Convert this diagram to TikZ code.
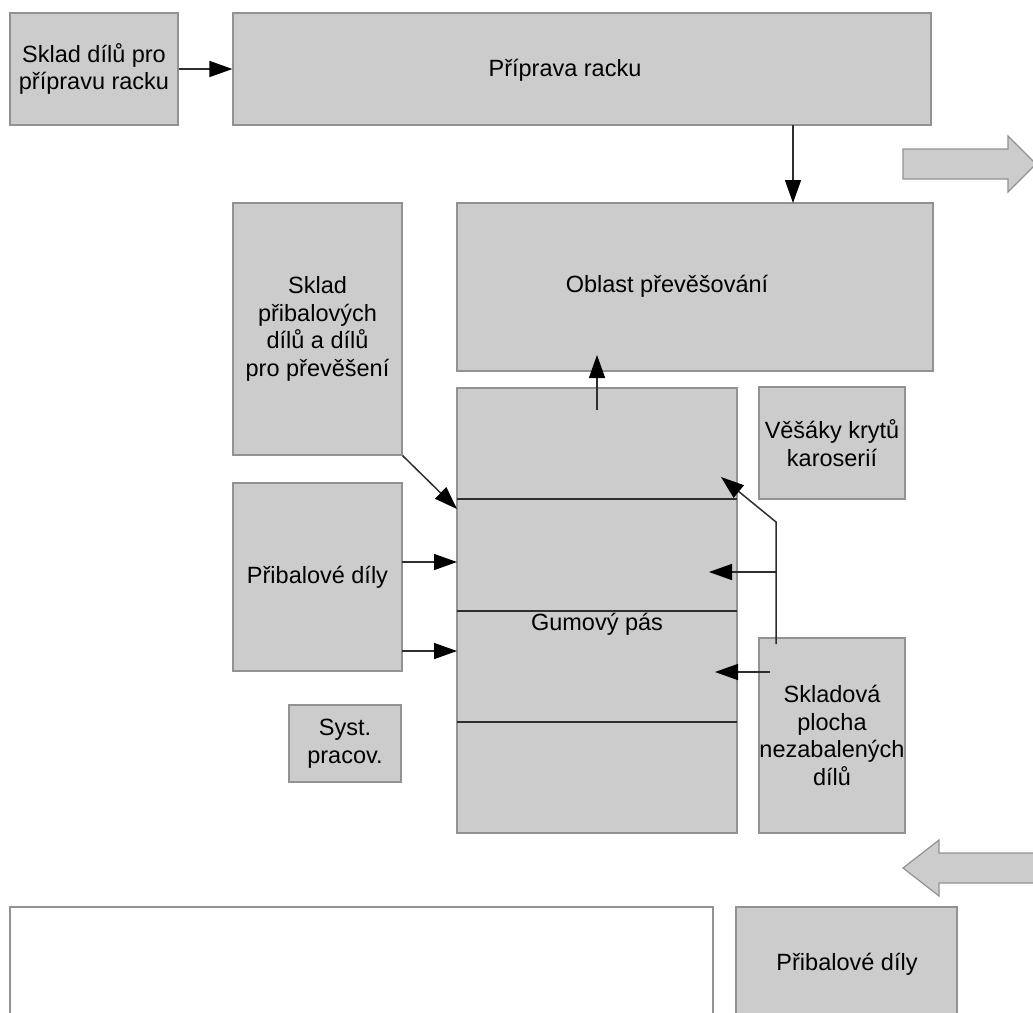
\documentclass[tikz,border=0pt]{standalone}
\usepackage{fontspec}
\setmainfont{Liberation Sans}
\usetikzlibrary{arrows.meta}
\definecolor{boxfill}{HTML}{CCCCCC}
\definecolor{boxline}{HTML}{929292}
\definecolor{wire}{HTML}{2E2E2E}
\tikzset{
  box/.style={draw=boxline, fill=boxfill, line width=1.2pt, inner sep=0pt,
    align=center, text=black, font=\fontsize{23.5}{27.5}\selectfont},
  plain/.style={draw=boxline, fill=white, line width=1.2pt},
  lbl/.style={inner sep=0pt, align=center, font=\fontsize{23.5}{27.5}\selectfont},
  arr/.style={draw=wire, line width=1.5pt, -{Triangle[length=23pt,width=16pt,color=black]}},
  wireline/.style={draw=wire, line width=1.5pt},
  bigarrow/.style={draw=boxline, fill=boxfill, line width=1.2pt},
}
\begin{document}
\begin{tikzpicture}[x=1pt, y=-1pt]
\useasboundingbox (0,0) rectangle (1033,1012);
\clip (0,0) rectangle (1033,1012);

% storage and preparation at the top
\node[box, minimum width=168pt, minimum height=112pt] (A) at (94,69) {Sklad dílů pro\\přípravu racku};
\node[box, minimum width=698pt, minimum height=112pt] (B) at (582,69) {};
\node[lbl] (Bt) at (565,70) {Příprava racku};

% big flow arrows
\draw[bigarrow] (903,149) -- (1008,149) -- (1008,136) -- (1036,164) -- (1008,192)
  -- (1008,179) -- (903,179) -- cycle;
\draw[bigarrow] (903,868) -- (939,840) -- (939,853) -- (1040,853) -- (1040,883)
  -- (939,883) -- (939,896) -- cycle;

% middle section
\node[box, minimum width=169pt, minimum height=252pt] (C) at (317.5,329) {Sklad\\přibalových\\dílů a dílů\\pro převěšení};
\node[box, minimum width=476pt, minimum height=168pt] (D) at (695,287) {};
\node[lbl] (Dt) at (667,286) {Oblast převěšování};
\node[box, minimum width=280pt, minimum height=445pt] (E) at (597,610.5) {};
\node[lbl] (Et) at (597,624) {Gumový pás};
\node[box, minimum width=146pt, minimum height=112pt] (F) at (832,443) {Věšáky krytů\\karoserií};
\node[box, minimum width=169pt, minimum height=188pt] (G) at (317.5,577) {Přibalové díly};
\node[box, minimum width=112pt, minimum height=77pt] (H) at (345,743.5) {Syst.\\pracov.};
\node[box, minimum width=146pt, minimum height=195pt] (I) at (832,735.5) {Skladová\\plocha\\nezabalených\\dílů};

% belt sections
\draw[wireline] (457,499) -- (737,499);
\draw[wireline] (457,611) -- (737,611);
\draw[wireline] (457,722) -- (737,722);

% bottom section
\node[plain, minimum width=703pt, minimum height=113pt, inner sep=0pt] (J) at (361.5,963.5) {};
\node[box, minimum width=221pt, minimum height=113pt] (K) at (846.5,963.5) {};
\node[lbl] (Kt) at (847,964) {Přibalové díly};

% connector end points
\coordinate (b1) at (793,125);
\coordinate (d1) at (793,203);
\coordinate (e1) at (457,509);
\coordinate (g1) at (402,562);
\coordinate (e2) at (457,562);
\coordinate (g2) at (402,651);
\coordinate (e3) at (457,651);
\coordinate (e4) at (597,410);
\coordinate (d2) at (597,355);
\coordinate (i1) at (776,644);
\coordinate (i2) at (776,522);
\coordinate (e5) at (721,477);
\coordinate (i3) at (776,572);
\coordinate (e6) at (709,572);
\coordinate (i4) at (770,672);
\coordinate (e7) at (715,672);

% connectors
\draw[arr] (A.east) -- (B.west);
\draw[arr] (b1) -- (d1);
\draw[arr] (C.south east) -- (e1);
\draw[arr] (g1) -- (e2);
\draw[arr] (g2) -- (e3);
\draw[arr] (e4) -- (d2);
\draw[arr] (i1) -- (i2) -- (e5);
\draw[arr] (i3) -- (e6);
\draw[arr] (i4) -- (e7);
\end{tikzpicture}
\end{document}
